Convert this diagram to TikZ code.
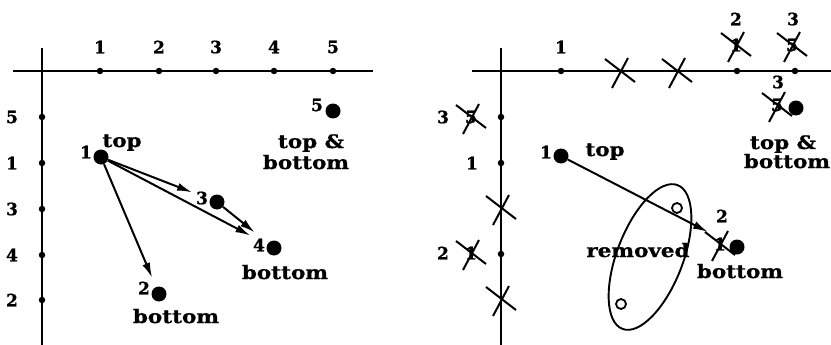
\documentclass[tikz,border=0pt]{standalone}
\usepackage{fontspec}
\usetikzlibrary{arrows.meta}
\newfontfamily\lblfont[FakeStretch=1.16,FakeBold=1]{DejaVu Serif}
\newfontfamily\digfont[FakeBold=1]{DejaVu Serif}
\tikzset{
  word/.style={font=\lblfont\bfseries\fontsize{18.5}{18.5}\selectfont, inner sep=0pt, anchor=base},
  dig/.style={font=\digfont\bfseries\fontsize{17}{17}\selectfont, inner sep=0pt},
  axis/.style={line width=2.4pt},
  tickdot/.style={circle, fill=black, inner sep=0pt, minimum size=6.5pt},
  bigdot/.style={circle, fill=black, inner sep=0pt, minimum size=15pt},
  arr/.style={line width=2pt, -{Latex[length=15pt,width=8pt]}},
  xline/.style={line width=2pt},
  xmark/.pic={\draw[xline] (-15,-12) -- (15,11); \draw[xline] (-8,17) -- (8,-13);},
  hollow/.style={circle, draw, line width=1.8pt, inner sep=0pt, minimum size=10pt}
}
\begin{document}
\begin{tikzpicture}[x=1pt,y=-1pt]
\useasboundingbox (0,0) rectangle (831,345);
\fill[white] (0,0) rectangle (831,345);
% ================= LEFT PANEL =================
\coordinate (hl1) at (13,71);
\coordinate (hl2) at (373,71);
\coordinate (vl1) at (42,48);
\coordinate (vl2) at (42,345);
\draw[axis] (hl1) -- (hl2);
\draw[axis] (vl1) -- (vl2);
% top ticks
\node[tickdot] (lt1) at (100,71) {};
\node[tickdot] (lt2) at (159,71) {};
\node[tickdot] (lt3) at (216,71) {};
\node[tickdot] (lt4) at (274,71) {};
\node[tickdot] (lt5) at (333,71) {};
\node[dig] (ltl1) at (100,47) {1};
\node[dig] (ltl2) at (159,47) {2};
\node[dig] (ltl3) at (216,47) {3};
\node[dig] (ltl4) at (274,47) {4};
\node[dig] (ltl5) at (333,47) {5};
% left ticks
\node[tickdot] (ll1) at (42,117) {};
\node[tickdot] (ll2) at (42,163) {};
\node[tickdot] (ll3) at (42,209) {};
\node[tickdot] (ll4) at (42,255) {};
\node[tickdot] (ll5) at (42,300) {};
\node[dig] (lll1) at (12,117) {5};
\node[dig] (lll2) at (12,163) {1};
\node[dig] (lll3) at (12,209) {3};
\node[dig] (lll4) at (12,255) {4};
\node[dig] (lll5) at (12,300) {2};
% points
\node[bigdot] (lp1) at (101,157) {};
\node[bigdot] (lp2) at (159,294) {};
\node[bigdot] (lp3) at (217,202) {};
\node[bigdot] (lp4) at (274,248) {};
\node[bigdot] (lp5) at (333,111) {};
\node[dig] (lp1l) at (86,152) {1};
\node[dig] (lp2l) at (144,288) {2};
\node[dig] (lp3l) at (202,198) {3};
\node[dig] (lp4l) at (259,245) {4};
\node[dig] (lp5l) at (317,105) {5};
\node[word] (ltop) at (122,147) {top};
\node[word] (lbot2) at (176,323) {bottom};
\node[word] (lbot4) at (285,279) {bottom};
\node[word] (ltb1) at (311,148) {top \&};
\node[word] (ltb2) at (306,169) {bottom};
% arrows
\draw[arr, shorten >=19pt] (lp1) -- (lp3);
\draw[arr, shorten >=19pt] (lp1) -- (lp4);
\draw[arr, shorten >=17pt] (lp3) -- (lp4);
\draw[arr, shorten >=10pt] (lp1) -- (lp2);
% ================= RIGHT PANEL =================
\coordinate (hr1) at (472,71);
\coordinate (hr2) at (831,71);
\coordinate (vr1) at (501,48);
\coordinate (vr2) at (501,345);
\draw[axis] (hr1) -- (hr2);
\draw[axis] (vr1) -- (vr2);
% top ticks
\node[tickdot] (rt1) at (561,71) {};
\coordinate (rtx1) at (620,71);
\coordinate (rtx2) at (677,71);
\node[tickdot] (rt4) at (737,71) {};
\node[tickdot] (rt5) at (795,71) {};
\pic at (rtx1) {xmark};
\pic at (rtx2) {xmark};
\node[dig] (rtl1) at (561,47) {1};
\node[dig] (rtc4) at (736,45) {1};
\pic at (rtc4) {xmark};
\node[dig] (rtn4) at (736,19) {2};
\node[dig] (rtc5) at (792,45) {5};
\pic at (rtc5) {xmark};
\node[dig] (rtn5) at (793,19) {3};
% left ticks
\node[tickdot] (rl1) at (501,117) {};
\node[tickdot] (rl2) at (501,163) {};
\coordinate (rlx3) at (501,208);
\node[tickdot] (rl4) at (501,254) {};
\coordinate (rlx5) at (501,299);
\pic at (rlx3) {xmark};
\pic at (rlx5) {xmark};
\node[dig] (rln1) at (443,117) {3};
\node[dig] (rlc1) at (471,117) {5};
\pic at (rlc1) {xmark};
\node[dig] (rll2) at (472,163) {1};
\node[dig] (rln4) at (443,253) {2};
\node[dig] (rlc4) at (471,253) {1};
\pic at (rlc4) {xmark};
% points
\node[bigdot] (rp1) at (561,156) {};
\node[dig] (rp1l) at (546,152) {1};
\node[word] (rtop) at (605,156) {top};
\node[bigdot] (rpb) at (737,247) {};
\node[dig] (rpbc) at (720,244) {1};
\pic at (rpbc) {xmark};
\node[dig] (rpbn) at (722,216) {2};
\node[word] (rbot) at (740,278) {bottom};
\node[bigdot] (rptb) at (796,108) {};
\node[dig] (rptbc) at (777,105) {5};
\pic at (rptbc) {xmark};
\node[dig] (rptbn) at (778,82) {3};
\node[word] (rtb1) at (783,149) {top \&};
\node[word] (rtb2) at (787,168) {bottom};
% removed group
\coordinate (ec) at (650,257);
\draw[line width=1.9pt, rotate around={-21:(ec)}] (ec) ellipse [x radius=33, y radius=77];
\node[hollow] (rm1) at (677,208) {};
\node[hollow] (rm2) at (621,304) {};
\node[word] (rrem) at (638,257) {removed};
\draw[arr, shorten >=25pt] (rp1) -- (rpb);
\end{tikzpicture}
\end{document}
